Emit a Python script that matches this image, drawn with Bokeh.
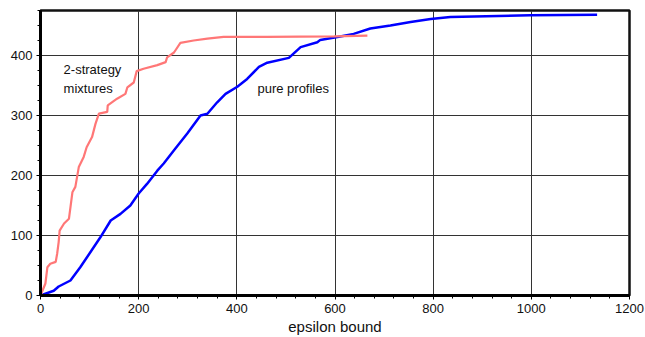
from bokeh.plotting import figure
from bokeh.models import Range1d, FixedTicker, Label
from bokeh.embed import file_html
from bokeh.resources import INLINE

# pure profiles (blue)
pure_x = [0, 27, 37, 61, 81, 122, 143, 163, 183, 200, 217, 238, 251, 272, 299, 326, 340,
          360, 377, 401, 421, 445, 462, 506, 530, 564, 570, 605, 638, 672, 713, 754, 795,
          835, 998, 1134]
pure_y = [0, 8, 15, 25, 47, 97, 125, 136, 150, 170, 186, 208, 220, 242, 270, 300, 303,
          322, 336, 348, 361, 381, 388, 396, 414, 422, 426, 431, 436, 445, 450, 456, 461,
          464, 467, 468]

# 2-strategy mixtures (red)
mix_x = [0, 10, 14, 20, 31, 34, 37, 39, 48, 58, 61, 65, 71, 78, 88, 94, 105, 112, 119,
         136, 137, 156, 173, 177, 190, 196, 210, 238, 255, 258, 272, 285, 312, 340, 373,
         462, 598, 666]
mix_y = [0, 20, 47, 53, 56, 70, 89, 108, 120, 128, 147, 172, 181, 214, 231, 247, 264,
         286, 303, 306, 317, 328, 336, 347, 355, 374, 378, 384, 389, 397, 405, 421, 425,
         428, 431, 431, 432, 433]

x_ticks = [0, 200, 400, 600, 800, 1000, 1200]
y_ticks = [0, 100, 200, 300, 400]

p = figure(width=645, height=337, output_backend="svg", toolbar_location=None,
           x_range=Range1d(0, 1200), y_range=Range1d(0, 475))
p.min_border_left = 40
p.min_border_right = 16
p.min_border_top = 10
p.min_border_bottom = 42
p.background_fill_color = "white"
p.border_fill_color = "white"
p.outline_line_color = "#111111"
p.outline_line_width = 2.5

p.xaxis.ticker = FixedTicker(ticks=x_ticks, minor_ticks=list(range(0, 1201, 40)))
p.yaxis.ticker = FixedTicker(ticks=y_ticks, minor_ticks=list(range(0, 476, 25)))
p.xaxis.axis_label = "epsilon bound"
p.xaxis.axis_label_text_font = "Liberation Sans"
p.xaxis.axis_label_text_font_style = "normal"
p.xaxis.axis_label_text_font_size = "15px"
p.xaxis.axis_label_text_color = "#111111"
p.xaxis.axis_label_standoff = 2
for ax in (p.xaxis, p.yaxis):
    ax.axis_line_width = 3
    ax.axis_line_color = "black"
    ax.major_tick_line_color = "black"
    ax.minor_tick_line_color = "black"
    ax.major_tick_line_width = 1
    ax.minor_tick_line_width = 1
    ax.major_tick_out = 4
    ax.major_tick_in = 0
    ax.minor_tick_out = 3
    ax.minor_tick_in = 0
    ax.major_label_text_font = "Liberation Sans"
    ax.major_label_text_font_size = "13px"
    ax.major_label_text_color = "#111111"
    ax.major_label_standoff = 4

p.xgrid.ticker = FixedTicker(ticks=x_ticks)
p.ygrid.ticker = FixedTicker(ticks=y_ticks)
p.grid.grid_line_color = "#333333"
p.grid.grid_line_width = 1
p.grid.grid_line_alpha = 1

p.line(pure_x, pure_y, line_color="#0000ff", line_width=2.5)
p.line(mix_x, mix_y, line_color="#ff7777", line_width=2.2)

for txt, x, y in [("2-strategy", 47, 390), ("mixtures", 47, 357), ("pure profiles", 442, 358)]:
    p.add_layout(Label(x=x, y=y, text=txt, text_font="Liberation Sans", text_font_size="13px",
                       text_baseline="top", text_align="left", text_color="#111111"))

open("out.html", "w").write(file_html(p, INLINE))
